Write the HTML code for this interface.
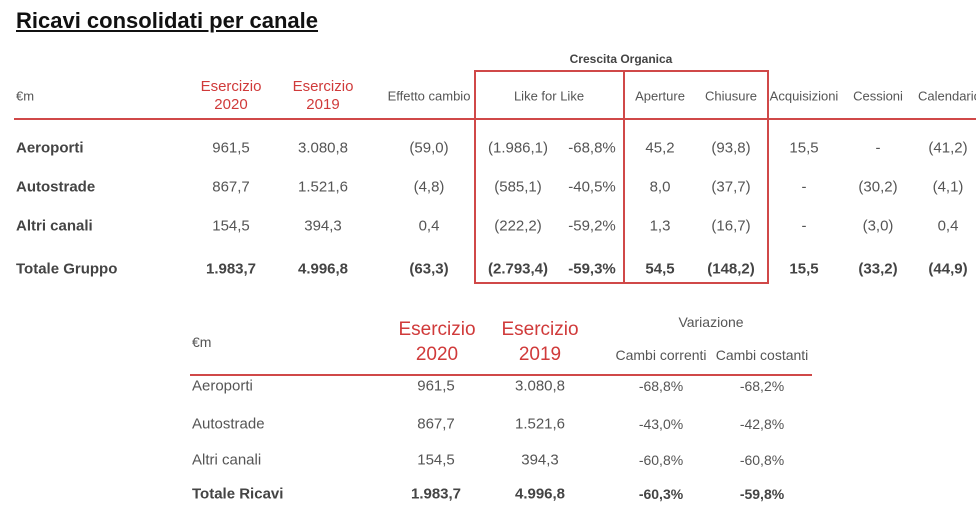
<!DOCTYPE html>
<html><head><meta charset="utf-8"><style>
body{margin:0;width:976px;height:514px;background:#fff;position:relative;overflow:hidden;font-family:"Liberation Sans",sans-serif;color:#555}
.t{position:absolute;white-space:nowrap;transform:translate(-50%,-50%);font-size:15px}
.l{position:absolute;white-space:nowrap;transform:translateY(-50%);font-size:15px}
.r{color:#d03a3a;font-size:15px;line-height:18px;text-align:center}
.b{font-weight:bold;color:#444}
.s{font-size:13px}
.p{font-size:14px}
.ln{position:absolute;background:#d04848}
</style></head><body>
<div class="l b" style="left:16px;top:21px;font-size:22px;color:#111;text-decoration:underline">Ricavi consolidati per canale</div>
<div class="t b s" style="left:621px;top:59px;font-size:12px">Crescita Organica</div>
<div class="l s" style="left:16px;top:96px">€m</div>
<div class="t r" style="left:231px;top:96px">Esercizio<br>2020</div>
<div class="t r" style="left:323px;top:96px">Esercizio<br>2019</div>
<div class="t s" style="left:429px;top:96px">Effetto cambio</div>
<div class="t s" style="left:549px;top:96px">Like for Like</div>
<div class="t s" style="left:660px;top:96px">Aperture</div>
<div class="t s" style="left:731px;top:96px">Chiusure</div>
<div class="t s" style="left:804px;top:96px">Acquisizioni</div>
<div class="t s" style="left:878px;top:96px">Cessioni</div>
<div class="l s" style="left:918px;top:96px">Calendario</div>
<div class="ln" style="left:14px;top:118px;width:962px;height:2px"></div>
<div style="position:absolute;left:474px;top:70px;width:291px;height:210px;border:2px solid #d04848"></div>
<div class="ln" style="left:623px;top:70px;width:2px;height:212px"></div>

<div class="l b" style="left:16px;top:148px">Aeroporti</div>
<div class="l b" style="left:16px;top:187px">Autostrade</div>
<div class="l b" style="left:16px;top:226px">Altri canali</div>
<div class="l b" style="left:16px;top:269px">Totale Gruppo</div>

<div class="t" style="left:231px;top:148px">961,5</div><div class="t" style="left:323px;top:148px">3.080,8</div><div class="t" style="left:429px;top:148px">(59,0)</div><div class="t" style="left:518px;top:148px">(1.986,1)</div><div class="t" style="left:592px;top:148px">-68,8%</div><div class="t" style="left:660px;top:148px">45,2</div><div class="t" style="left:731px;top:148px">(93,8)</div><div class="t" style="left:804px;top:148px">15,5</div><div class="t" style="left:878px;top:148px">-</div><div class="t" style="left:948px;top:148px">(41,2)</div>
<div class="t" style="left:231px;top:187px">867,7</div><div class="t" style="left:323px;top:187px">1.521,6</div><div class="t" style="left:429px;top:187px">(4,8)</div><div class="t" style="left:518px;top:187px">(585,1)</div><div class="t" style="left:592px;top:187px">-40,5%</div><div class="t" style="left:660px;top:187px">8,0</div><div class="t" style="left:731px;top:187px">(37,7)</div><div class="t" style="left:804px;top:187px">-</div><div class="t" style="left:878px;top:187px">(30,2)</div><div class="t" style="left:948px;top:187px">(4,1)</div>
<div class="t" style="left:231px;top:226px">154,5</div><div class="t" style="left:323px;top:226px">394,3</div><div class="t" style="left:429px;top:226px">0,4</div><div class="t" style="left:518px;top:226px">(222,2)</div><div class="t" style="left:592px;top:226px">-59,2%</div><div class="t" style="left:660px;top:226px">1,3</div><div class="t" style="left:731px;top:226px">(16,7)</div><div class="t" style="left:804px;top:226px">-</div><div class="t" style="left:878px;top:226px">(3,0)</div><div class="t" style="left:948px;top:226px">0,4</div>
<div class="t b" style="left:231px;top:269px">1.983,7</div><div class="t b" style="left:323px;top:269px">4.996,8</div><div class="t b" style="left:429px;top:269px">(63,3)</div><div class="t b" style="left:518px;top:269px">(2.793,4)</div><div class="t b" style="left:592px;top:269px">-59,3%</div><div class="t b" style="left:660px;top:269px">54,5</div><div class="t b" style="left:731px;top:269px">(148,2)</div><div class="t b" style="left:804px;top:269px">15,5</div><div class="t b" style="left:878px;top:269px">(33,2)</div><div class="t b" style="left:948px;top:269px">(44,9)</div>

<div class="l p" style="left:192px;top:342px">€m</div>
<div class="t r" style="left:437px;top:342px;font-size:19px;line-height:25px">Esercizio<br>2020</div>
<div class="t r" style="left:540px;top:342px;font-size:19px;line-height:25px">Esercizio<br>2019</div>
<div class="t p" style="left:711px;top:322px">Variazione</div>
<div class="t p" style="left:661px;top:355px">Cambi correnti</div>
<div class="t p" style="left:762px;top:355px">Cambi costanti</div>
<div class="ln" style="left:190px;top:374px;width:622px;height:2px"></div>

<div class="l" style="left:192px;top:386px">Aeroporti</div><div class="t" style="left:436px;top:386px">961,5</div><div class="t" style="left:540px;top:386px">3.080,8</div><div class="t p" style="left:661px;top:386px">-68,8%</div><div class="t p" style="left:762px;top:386px">-68,2%</div>
<div class="l" style="left:192px;top:424px">Autostrade</div><div class="t" style="left:436px;top:424px">867,7</div><div class="t" style="left:540px;top:424px">1.521,6</div><div class="t p" style="left:661px;top:424px">-43,0%</div><div class="t p" style="left:762px;top:424px">-42,8%</div>
<div class="l" style="left:192px;top:460px">Altri canali</div><div class="t" style="left:436px;top:460px">154,5</div><div class="t" style="left:540px;top:460px">394,3</div><div class="t p" style="left:661px;top:460px">-60,8%</div><div class="t p" style="left:762px;top:460px">-60,8%</div>
<div class="l b" style="left:192px;top:494px">Totale Ricavi</div><div class="t b" style="left:436px;top:494px">1.983,7</div><div class="t b" style="left:540px;top:494px">4.996,8</div><div class="t b p" style="left:661px;top:494px">-60,3%</div><div class="t b p" style="left:762px;top:494px">-59,8%</div>
</body></html>
